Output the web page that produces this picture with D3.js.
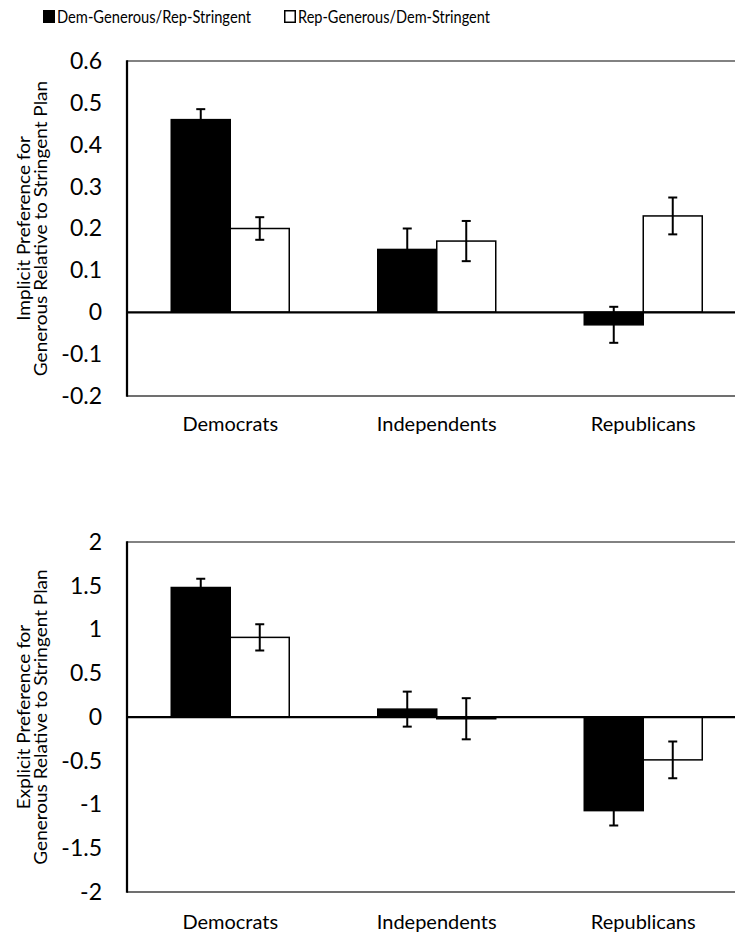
<!DOCTYPE html>
<html>
<head>
<meta charset="utf-8">
<script src="https://cdn.jsdelivr.net/npm/d3@7"></script>
<style>
  body { margin: 0; background: #fff; }
  svg { display: block; font-family: Lato, "Open Sans", sans-serif; }
</style>
</head>
<body>
<svg id="chart" width="735" height="932"></svg>
<script>
const categories = ['Democrats', 'Independents', 'Republicans']
const seriesNames = ['Dem-Generous/Rep-Stringent', 'Rep-Generous/Dem-Stringent']
const seriesFill = ['#000', '#fff']

// implicit (top panel)
const implicitDem = [0.46, 0.15, -0.03]
const implicitDemErr = [0.025, 0.05, 0.043]
const implicitRep = [0.20, 0.17, 0.23]
const implicitRepErr = [0.027, 0.048, 0.044]
const implicitTicks = [0.6, 0.5, 0.4, 0.3, 0.2, 0.1, 0, -0.1, -0.2]

// explicit (bottom panel)
const explicitDem = [1.48, 0.09, -1.07]
const explicitDemErr = [0.10, 0.20, 0.17]
const explicitRep = [0.91, -0.02, -0.49]
const explicitRepErr = [0.15, 0.235, 0.21]
const explicitTicks = [2, 1.5, 1, 0.5, 0, -0.5, -1, -1.5, -2]

const svg = d3.select('#chart')

drawLegend()

drawPanel({
  top: 61, bottom: 396,
  ticks: implicitTicks,
  values: [implicitDem, implicitRep],
  errors: [implicitDemErr, implicitRepErr],
  title: ['Implicit Preference for', 'Generous Relative to Stringent Plan'],
  labelY: 431
})

drawPanel({
  top: 542, bottom: 892,
  ticks: explicitTicks,
  values: [explicitDem, explicitRep],
  errors: [explicitDemErr, explicitRepErr],
  title: ['Explicit Preference for', 'Generous Relative to Stringent Plan'],
  labelY: 929
})

//helpers

function drawLegend() {
  const xs = [43, 284]
  const widths = [194, 192]
  const item = svg.selectAll('g.legend')
    .data(seriesNames)
    .enter()
    .append('g')
    .attr('class', 'legend')
    .attr('transform', (d, i) => `translate(${xs[i]},0)`)

  item.append('rect')
    .attr('x', 0.75)
    .attr('y', 10.75)
    .attr('width', 10.5)
    .attr('height', 11.5)
    .attr('fill', (d, i) => seriesFill[i])
    .attr('stroke', '#000')
    .attr('stroke-width', 1.5)

  item.append('text')
    .attr('x', 14)
    .attr('y', 23)
    .attr('font-size', 17.5)
    .attr('textLength', (d, i) => widths[i])
    .attr('lengthAdjust', 'spacingAndGlyphs')
    .text(d => d)
}

function drawPanel(p) {
  const left = 127
  const bandStep = 206.5
  const x0 = d3.scaleBand()
    .domain(categories)
    .range([left, left + bandStep * categories.length])
  const x1 = d3.scaleBand()
    .domain([0, 1])
    .range([0, x0.bandwidth()])
    .paddingOuter(0.75)
  const extent = d3.extent(p.ticks)
  const y = d3.scaleLinear().domain(extent).range([p.bottom, p.top])

  const g = svg.append('g')

  // frame: top and bottom lines are grey, left axis black
  g.append('line')
    .attr('x1', left).attr('x2', 735)
    .attr('y1', y(extent[1])).attr('y2', y(extent[1]))
    .attr('stroke', '#595959').attr('stroke-width', 1.5)
  g.append('line')
    .attr('x1', left).attr('x2', 735)
    .attr('y1', y(extent[0])).attr('y2', y(extent[0]))
    .attr('stroke', '#404040').attr('stroke-width', 1.5)

  const yAxis = g.append('g')
    .attr('transform', `translate(${left},0)`)
    .call(d3.axisLeft(y).tickValues(p.ticks).tickSize(0).tickPadding(25).tickFormat(d => String(d)))
  yAxis.select('.domain').remove()
  yAxis.selectAll('text')
    .attr('font-family', 'Lato, sans-serif')
    .attr('font-size', 23)
    .attr('fill', '#000')

  const groups = g.selectAll('g.cat')
    .data(categories)
    .enter()
    .append('g')
    .attr('class', 'cat')
    .attr('transform', d => `translate(${x0(d)},0)`)

  const bars = groups.selectAll('g.bar')
    .data((d, ci) => [0, 1].map(si => ({ si, v: p.values[si][ci], e: p.errors[si][ci] })))
    .enter()
    .append('g')
    .attr('class', 'bar')

  bars.append('rect')
    .attr('x', d => x1(d.si))
    .attr('width', x1.bandwidth())
    .attr('y', d => y(Math.max(0, d.v)))
    .attr('height', d => Math.abs(y(d.v) - y(0)))
    .attr('fill', d => seriesFill[d.si])
    .attr('stroke', '#000')
    .attr('stroke-width', 1.5)

  // zero line over the bars
  g.append('line')
    .attr('x1', left).attr('x2', 735)
    .attr('y1', y(0)).attr('y2', y(0))
    .attr('stroke', '#000').attr('stroke-width', 2.25)

  const err = g.selectAll('g.cat').selectAll('g.err')
    .data((d, ci) => [0, 1].map(si => ({ si, v: p.values[si][ci], e: p.errors[si][ci] })))
    .enter()
    .append('g')
    .attr('class', 'err')
    .attr('stroke', '#000')
    .attr('stroke-width', 2)
  const cx = d => x1(d.si) + x1.bandwidth() / 2
  err.append('line')
    .attr('x1', cx).attr('x2', cx)
    .attr('y1', d => y(d.v + d.e)).attr('y2', d => y(d.v - d.e))
  err.append('line')
    .attr('x1', d => cx(d) - 4.5).attr('x2', d => cx(d) + 4.5)
    .attr('y1', d => y(d.v + d.e)).attr('y2', d => y(d.v + d.e))
  err.append('line')
    .attr('x1', d => cx(d) - 4.5).attr('x2', d => cx(d) + 4.5)
    .attr('y1', d => y(d.v - d.e)).attr('y2', d => y(d.v - d.e))

  // left axis line
  g.append('line')
    .attr('x1', left).attr('x2', left)
    .attr('y1', y(extent[1]) - 0.75).attr('y2', y(extent[0]) + 0.75)
    .attr('stroke', '#000').attr('stroke-width', 2.25)

  g.selectAll('text.cat')
    .data(categories)
    .enter()
    .append('text')
    .attr('class', 'cat')
    .attr('x', d => x0(d) + x0.bandwidth() / 2)
    .attr('y', p.labelY)
    .attr('text-anchor', 'middle')
    .attr('font-size', 20)
    .text(d => d)

  // rotated two-line title, glyphs squeezed across the baseline like the source
  const midY = (p.top + p.bottom) / 2
  g.append('text')
    .attr('transform', `translate(24,${midY}) rotate(-90) scale(1,0.88)`)
    .attr('text-anchor', 'middle')
    .attr('font-size', 19)
    .selectAll('tspan')
    .data(p.title)
    .enter()
    .append('tspan')
    .attr('x', 0)
    .attr('dy', (d, i) => i === 0 ? '0.35em' : 19)
    .text(d => d)
}
</script>
</body>
</html>
